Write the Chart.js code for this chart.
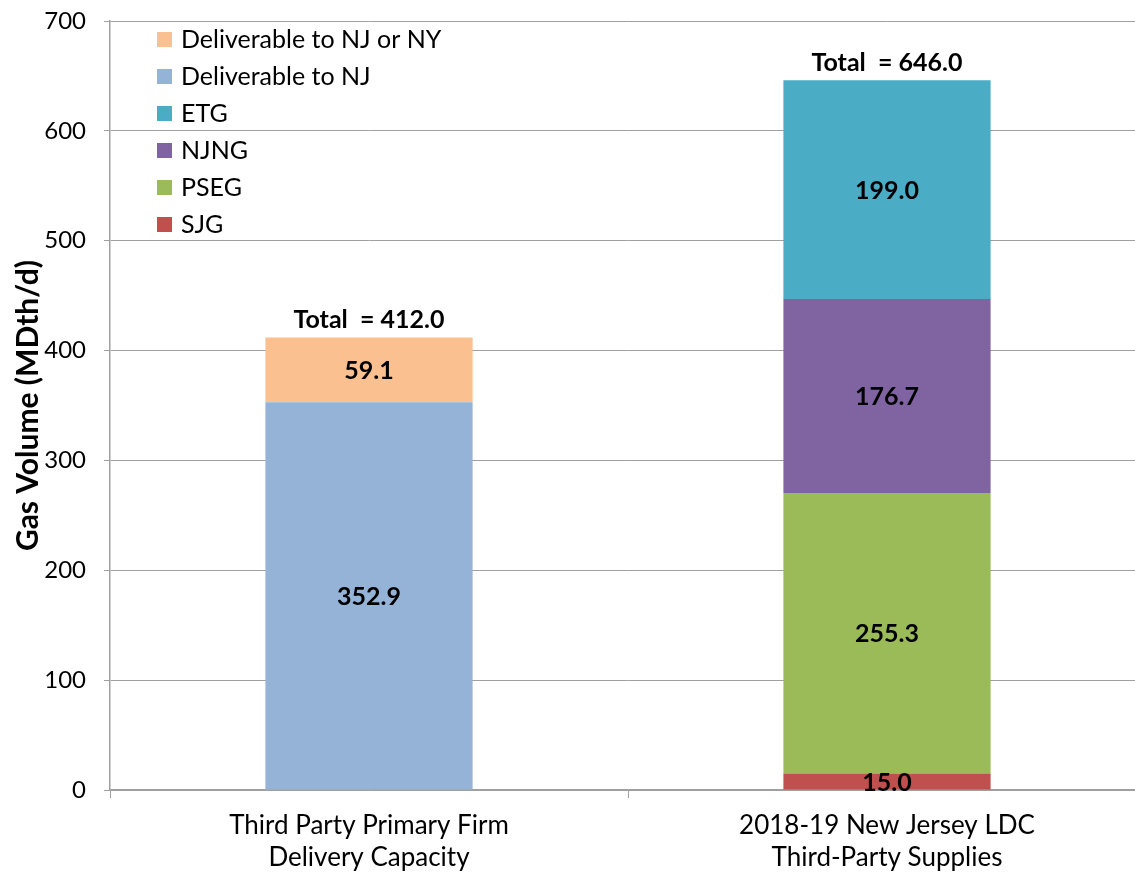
<!DOCTYPE html>
<html>
<head>
<meta charset="utf-8">
<script src="https://cdn.jsdelivr.net/npm/chart.js@4"></script>
<style>
    html, body { margin: 0; padding: 0; background: #ffffff; overflow: hidden; }
    #wrap { width: 1146px; height: 875px; }
</style>
</head>
<body>
<div id="wrap"><canvas id="mainChart"></canvas></div>
<script>
/* =========================
   DATOS
========================= */
const categories = [
    ["Third Party Primary Firm", "Delivery Capacity"],
    ["2018-19 New Jersey LDC", "Third-Party Supplies"]
];

const seriesNames = ["SJG", "PSEG", "NJNG", "ETG", "Deliverable to NJ", "Deliverable to NJ or NY"];
const seriesColors = ["#C0504D", "#9BBB59", "#8064A2", "#4BACC6", "#95B3D7", "#FAC090"];

const sjgValues = [0, 15.0];
const psegValues = [0, 255.3];
const njngValues = [0, 176.7];
const etgValues = [0, 199.0];
const deliverableNJValues = [352.9, 0];
const deliverableNJNYValues = [59.1, 0];

const yTicks = [0, 100, 200, 300, 400, 500, 600, 700];

const FONT = "Lato, 'Noto Sans', sans-serif";

/* =========================
   ETIQUETAS Y LEYENDA
========================= */
const labelsPlugin = {
    id: "labelsPlugin",
    afterDatasetsDraw(chart) {
        const ctx = chart.ctx;
        ctx.save();
        ctx.fillStyle = "#000000";
        ctx.textAlign = "center";
        ctx.textBaseline = "middle";
        ctx.font = "bold 25px " + FONT;

        chart.data.datasets.forEach((ds, i) => {
            const meta = chart.getDatasetMeta(i);
            meta.data.forEach((bar, j) => {
                const v = ds.data[j];
                if (!v) return;
                ctx.fillText(v.toFixed(1), bar.x, (bar.y + bar.base) / 2 + 1);
            });
        });

        /* totales */
        categories.forEach((c, j) => {
            let total = 0;
            chart.data.datasets.forEach(ds => { total += ds.data[j] || 0; });
            const x = chart.scales.x.getPixelForValue(j);
            const y = chart.scales.y.getPixelForValue(total);
            ctx.textBaseline = "middle";
            ctx.fillText("Total  = " + total.toFixed(1), x, y - 17);
        });

        /* leyenda */
        const area = chart.chartArea;
        ctx.textAlign = "left";
        ctx.textBaseline = "middle";
        ctx.font = "25px " + FONT;
        const items = chart.data.datasets.slice().reverse();
        items.forEach((ds, k) => {
            const cy = area.top + 18 + k * 37;
            ctx.fillStyle = ds.backgroundColor;
            ctx.fillRect(area.left + 47, cy - 7, 15, 15);
            ctx.fillStyle = "#000000";
            ctx.fillText(ds.label, area.left + 71, cy + 1);
        });
        ctx.restore();
    }
};

/* =========================
   GRAFICO
========================= */
const valueLists = [sjgValues, psegValues, njngValues, etgValues, deliverableNJValues, deliverableNJNYValues];

const ctx = document.getElementById("mainChart").getContext("2d");

new Chart(ctx, {
    type: "bar",
    data: {
        labels: categories,
        datasets: seriesNames.map((name, i) => ({
            label: name,
            data: valueLists[i],
            backgroundColor: seriesColors[i],
            borderWidth: 0,
            barPercentage: 0.4,
            categoryPercentage: 1.0
        }))
    },
    options: {
        responsive: true,
        maintainAspectRatio: false,
        animation: false,
        layout: {
            padding: { top: 21, right: 0, left: 0, bottom: 0 }
        },
        plugins: {
            legend: { display: false },
            tooltip: { enabled: false }
        },
        scales: {
            x: {
                stacked: true,
                afterFit: s => {
                    s.height = 85;
                    s.paddingLeft = 0;
                    s.paddingRight = 0;
                },
                border: { color: "#a0a0a0", width: 1.5 },
                grid: {
                    offset: true,
                    drawOnChartArea: false,
                    drawTicks: true,
                    tickLength: 8,
                    color: "#a0a0a0"
                },
                ticks: {
                    color: "#000000",
                    padding: 12,
                    font: { family: FONT, size: 26, lineHeight: 1.23 },
                    maxRotation: 0
                }
            },
            y: {
                stacked: true,
                min: 0,
                max: 700,
                afterFit: s => {
                    s.width = 110;
                    s.paddingTop = 0;
                    s.paddingBottom = 0;
                },
                afterBuildTicks: s => { s.ticks = yTicks.map(v => ({ value: v })); },
                border: { color: "#a0a0a0", width: 1.5 },
                grid: {
                    color: "#a0a0a0",
                    tickLength: 6
                },
                ticks: {
                    color: "#000000",
                    padding: 18,
                    font: { family: FONT, size: 24 }
                },
                title: {
                    display: true,
                    text: "Gas Volume (MDth/d)",
                    color: "#000000",
                    font: { family: FONT, size: 30, weight: "bold" },
                    padding: { top: 10, bottom: 0 }
                }
            }
        }
    },
    plugins: [labelsPlugin]
});
</script>
</body>
</html>
